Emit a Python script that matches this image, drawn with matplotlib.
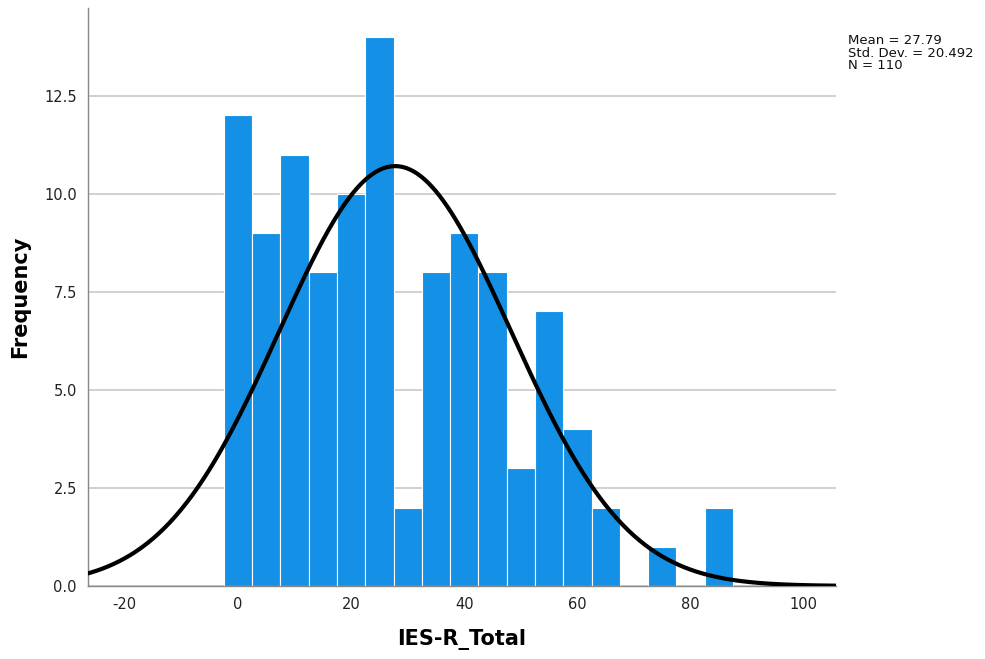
import numpy as np
import matplotlib.pyplot as plt

plt.rcParams['axes.unicode_minus'] = False

# bin centres (width 5) and counts
centros = [0, 5, 10, 15, 20, 25, 30, 35, 40, 45, 50, 55, 60, 65, 70, 75, 80, 85]
frecuencias = [12, 9, 11, 8, 10, 14, 2, 8, 9, 8, 3, 7, 4, 2, 0, 1, 0, 2]
media = 27.79
desv = 20.492
n = 110
ancho = 5

fig = plt.figure(figsize=(9.85, 6.59), dpi=100)
ax = fig.add_axes([0.0893, 0.1108, 0.7594, 0.8771])

ax.bar(centros, frecuencias, width=ancho, color='#1490e6', edgecolor='white',
       linewidth=0.8, zorder=2)

# normal curve scaled to counts
xs = np.linspace(-27, 106, 400)
ys = n * ancho / (desv * np.sqrt(2 * np.pi)) * np.exp(-0.5 * ((xs - media) / desv) ** 2)
ax.plot(xs, ys, color='black', linewidth=3, zorder=3, solid_capstyle='round')

ax.set_xlim(-26.5, 105.7)
ax.set_ylim(0, 14.74)
ax.set_xticks(np.arange(-20, 101, 20))
ax.set_yticks(np.arange(0, 12.6, 2.5))
ax.set_yticklabels(['%.1f' % v for v in np.arange(0, 12.6, 2.5)])
ax.yaxis.grid(True, color='#c8c8c8', linewidth=1.2, zorder=0)
ax.set_axisbelow(True)

for s in ['top', 'right']:
    ax.spines[s].set_visible(False)
for s in ['left', 'bottom']:
    ax.spines[s].set_color('#888888')
    ax.spines[s].set_linewidth(1)
ax.tick_params(length=0, labelsize=10.5, colors='#222222', pad=8)

ax.set_xlabel('IES-R_Total', fontsize=15, fontweight='bold', labelpad=12)
ax.set_ylabel('Frequency', fontsize=15, fontweight='bold', labelpad=10)

fig.text(0.861, 0.948, 'Mean = %.2f\nStd. Dev. = %.3f\nN = %d' % (media, desv, n),
         fontsize=9.5, va='top', ha='left', linespacing=0.95, color='#111111')

fig.savefig('out.png', dpi=100)
